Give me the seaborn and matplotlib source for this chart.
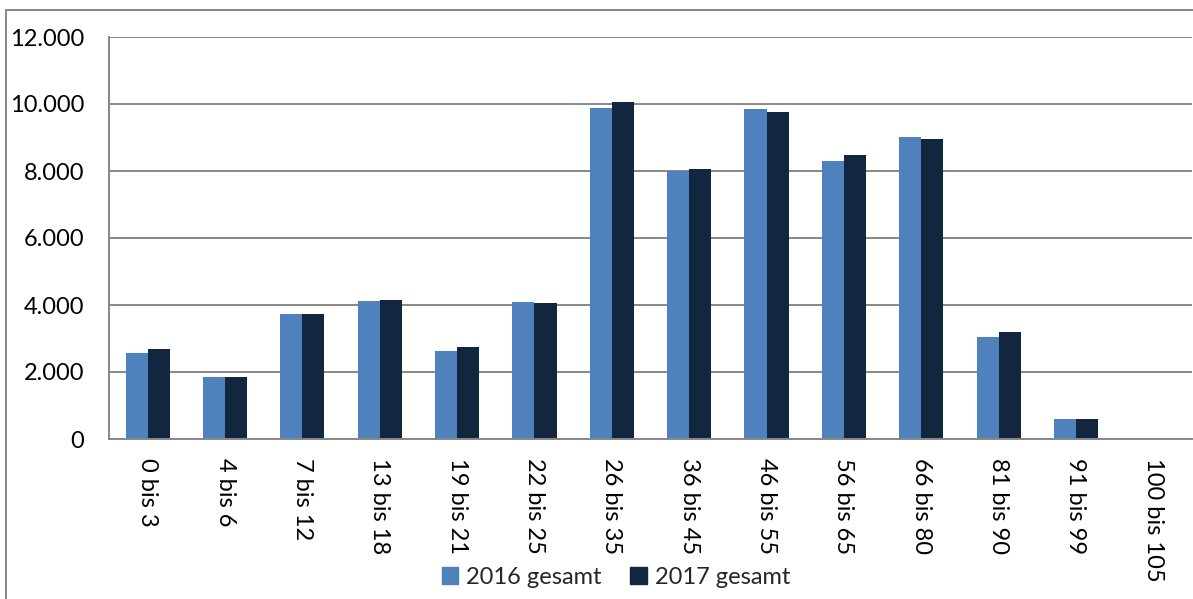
import matplotlib.pyplot as plt
import matplotlib.lines as mlines
import numpy as np
import pandas as pd
import seaborn as sns

# Altersgruppen und Werte
altersgruppen = ['0 bis 3', '4 bis 6', '7 bis 12', '13 bis 18', '19 bis 21',
                 '22 bis 25', '26 bis 35', '36 bis 45', '46 bis 55', '56 bis 65',
                 '66 bis 80', '81 bis 90', '91 bis 99', '100 bis 105']
werte_2016 = [2580, 1850, 3730, 4120, 2640, 4090, 9880, 8010, 9840, 8300, 9010, 3035, 590, 0]
werte_2017 = [2700, 1850, 3735, 4140, 2750, 4060, 10050, 8060, 9770, 8470, 8970, 3200, 590, 0]
serien = ['2016 gesamt', '2017 gesamt']
farben = ['#4F81BD', '#12263F']

df = pd.DataFrame({
    'gruppe': altersgruppen * 2,
    'wert': werte_2016 + werte_2017,
    'serie': [serien[0]] * len(altersgruppen) + [serien[1]] * len(altersgruppen),
})

sns.set_style('white')
plt.rcParams['font.family'] = ['Lato', 'DejaVu Sans']

W, H = 1193, 599
fs = 17
fig = plt.figure(figsize=(W / 100, H / 100), dpi=100)
ax = fig.add_axes([109 / W, 1 - 439 / H, (1192 - 109) / W, (439 - 37) / H])

sns.barplot(data=df, x='gruppe', y='wert', hue='serie', palette=farben,
            width=0.57, gap=0, linewidth=0, saturation=1, ax=ax, legend=True)

grau = '#878787'
ax.set_xlim(-0.5, len(altersgruppen) - 0.5)
ax.set_ylim(0, 12000)
ax.set_yticks(np.arange(0, 12001, 2000))
ax.set_yticklabels([f'{v:,.0f}'.replace(',', '.') for v in range(0, 12001, 2000)])
ax.yaxis.grid(True, color=grau, linewidth=1.4)
ax.set_axisbelow(True)
ax.set_xlabel('')
ax.set_ylabel('')

for s in ['top', 'right']:
    ax.spines[s].set_visible(False)
for s in ['left', 'bottom']:
    ax.spines[s].set_color(grau)
    ax.spines[s].set_linewidth(1.4)

ax.set_xticks(np.arange(len(altersgruppen)))
ax.set_xticklabels(altersgruppen, rotation=270, ha='center', va='top')
ax.set_xticks(np.arange(len(altersgruppen) + 1) - 0.5, minor=True)
ax.tick_params(axis='x', which='major', length=0, pad=14, labelsize=fs, colors='black')
ax.tick_params(axis='x', which='minor', length=6, width=1.4, color=grau, direction='out')
ax.tick_params(axis='y', length=6, width=1.4, color=grau, direction='out',
               pad=12, labelsize=fs, labelcolor='black')

ax.get_legend().remove()
handles = [plt.Rectangle((0, 0), 1, 1, color=c) for c in farben]
fig.legend(handles, serien, loc='center', bbox_to_anchor=(616 / W, 1 - 577 / H),
           ncol=2, frameon=False, fontsize=fs, handlelength=0.7, handleheight=0.7,
           handletextpad=0.35, columnspacing=1.2, borderpad=0)

# Rahmen um das Diagramm (links und oben)
fig.add_artist(mlines.Line2D([6.5 / W, 6.5 / W], [0, 1 - 10 / H], color=grau, lw=1.4,
                             transform=fig.transFigure))
fig.add_artist(mlines.Line2D([6.5 / W, 1], [1 - 10 / H, 1 - 10 / H], color=grau, lw=1.4,
                             transform=fig.transFigure))

fig.savefig('out.png', dpi=100)
